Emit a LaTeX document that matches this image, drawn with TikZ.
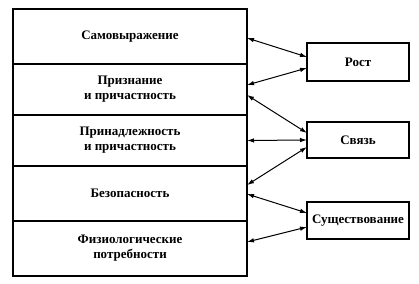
\documentclass[tikz,border=0pt]{standalone}
\usepackage{fontspec}
\setmainfont{Liberation Serif}
\usetikzlibrary{arrows.meta, positioning}

\tikzset{
    level/.style={draw, line width=1.2pt, minimum width=234pt, inner sep=0pt, outer sep=0pt,
                  align=center, font=\bfseries\fontsize{13}{15}\selectfont},
    need/.style={draw, line width=1.2pt, minimum width=102pt, inner sep=0pt, outer sep=0pt,
                 align=center, font=\bfseries\fontsize{13}{15}\selectfont},
    link/.style={{Latex[length=7pt,width=4.5pt]}-{Latex[length=7pt,width=4.5pt]}, line width=1pt}
}

\begin{document}
\begin{tikzpicture}[x=1pt, y=-1pt]
    \useasboundingbox (0,0) rectangle (419,283);

    % Pyramid levels (stacked boxes)
    \node[level, minimum height=55pt] (self) at (130,36.5) {Самовыражение};
    \node[level, minimum height=51pt, below=0pt of self] (recog) {Признание\\и причастность};
    \node[level, minimum height=51pt, below=0pt of recog] (belong) {Принадлежность\\и причастность};
    \node[level, minimum height=55pt, below=0pt of belong] (safe) {Безопасность};
    \node[level, minimum height=55pt, below=0pt of safe] (phys) {Физиологические\\потребности};

    % ERG needs
    \node[need, minimum height=38pt] (grow) at (358,62) {Рост};
    \node[need, minimum height=36pt] (rel) at (358,140) {Связь};
    \node[need, minimum height=37pt] (exist) at (358,220.5) {Существование};

    % Links between levels and needs
    \draw[link] ([yshift=-1.5pt]self.east) -- ([yshift=5pt]grow.west);
    \draw[link] ([yshift=4.5pt]recog.east) -- ([yshift=-6pt]grow.west);
    \draw[link] ([yshift=-5.5pt]recog.east) -- ([yshift=7pt]rel.west);
    \draw[link] (belong.east) -- (rel.west);
    \draw[link] ([yshift=8.5pt]safe.east) -- ([yshift=-7pt]rel.west);
    \draw[link] ([yshift=-0.5pt]safe.east) -- ([yshift=7.5pt]exist.west);
    \draw[link] ([yshift=6.5pt]phys.east) -- ([yshift=-6.5pt]exist.west);

\end{tikzpicture}
\end{document}
